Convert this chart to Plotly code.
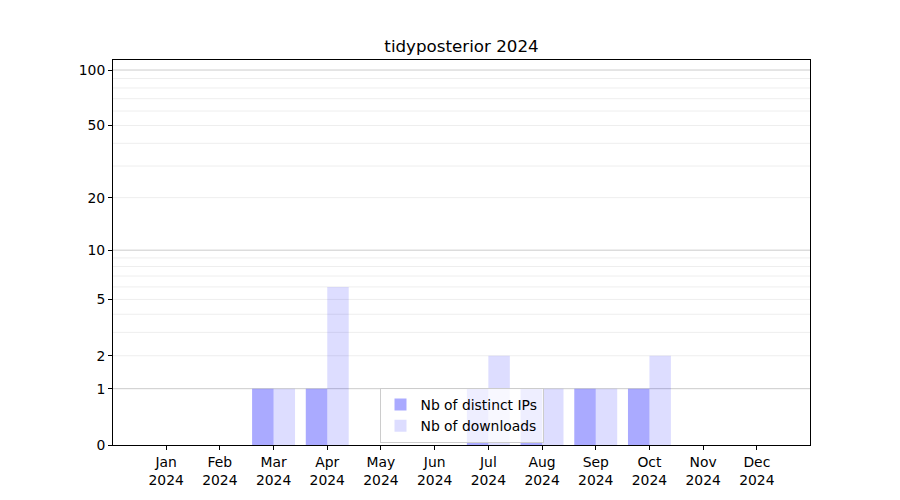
import math
import plotly.graph_objects as go

months = ["Jan", "Feb", "Mar", "Apr", "May", "Jun", "Jul", "Aug", "Sep", "Oct", "Nov", "Dec"]
year = "2024"
distinct_ips = [0, 0, 1, 1, 0, 0, 1, 1, 1, 1, 0, 0]
downloads = [0, 0, 1, 6, 0, 0, 2, 1, 1, 2, 0, 0]
y_ticks = [0, 1, 2, 5, 10, 20, 50, 100]
major_grid = [1, 10, 100]
minor_grid = [2, 3, 4, 5, 6, 7, 8, 9, 20, 30, 40, 50, 60, 70, 80, 90]


def f(v):
    return math.log10(1 + v)


x = list(range(len(months)))
fig = go.Figure()
fig.add_trace(go.Bar(
    x=x, y=[f(v) for v in distinct_ips], customdata=distinct_ips,
    name="Nb of distinct IPs", marker=dict(color="rgba(0,0,255,0.333)", line=dict(width=0)),
    hovertemplate="%{customdata}<extra>Nb of distinct IPs</extra>",
))
fig.add_trace(go.Bar(
    x=x, y=[f(v) for v in downloads], customdata=downloads,
    name="Nb of downloads", marker=dict(color="rgba(0,0,255,0.133)", line=dict(width=0)),
    hovertemplate="%{customdata}<extra>Nb of downloads</extra>",
))

for v in minor_grid:
    fig.add_shape(type="line", xref="paper", x0=0, x1=1, yref="y", y0=f(v), y1=f(v),
                  line=dict(color="rgb(238,238,238)", width=1), layer="below")
for v in major_grid:
    fig.add_shape(type="line", xref="paper", x0=0, x1=1, yref="y", y0=f(v), y1=f(v),
                  line=dict(color="rgb(204,204,204)", width=1), layer="below")

font = "DejaVu Sans"
fig.update_layout(
    width=900, height=500,
    margin=dict(l=113, r=90, t=60, b=55),
    plot_bgcolor="white", paper_bgcolor="white",
    font=dict(family=font, size=13.9, color="black"),
    title=dict(text="tidyposterior 2024", x=(113 + 810) / 2 / 900, xanchor="center",
               y=1 - 46 / 500, yanchor="middle", font=dict(size=16.7, family=font, color="black")),
    barmode="group", bargap=0.2, bargroupgap=0,
    showlegend=True,
    legend=dict(x=0.5, xanchor="center", y=0.005, yanchor="bottom",
                bgcolor="rgba(255,255,255,0.8)", bordercolor="#cccccc", borderwidth=1,
                font=dict(size=13.9, family=font), tracegroupgap=0),
    xaxis=dict(range=[-0.99, 11.99], tickmode="array", tickvals=x,
               ticktext=[f"{m}<br>{year}" for m in months],
               showgrid=False, zeroline=False, showline=True, linecolor="black", linewidth=1,
               mirror=True, ticks="outside", ticklen=4, tickcolor="black"),
    yaxis=dict(range=[0, 2.058], tickmode="array", tickvals=[f(v) for v in y_ticks],
               ticktext=[str(v) for v in y_ticks],
               showgrid=False, zeroline=False, showline=True, linecolor="black", linewidth=1,
               mirror=True, ticks="outside", ticklen=4, tickcolor="black"),
)

fig.write_html("out.html", config={"displayModeBar": False},
               post_script="document.body.style.margin='0';")
